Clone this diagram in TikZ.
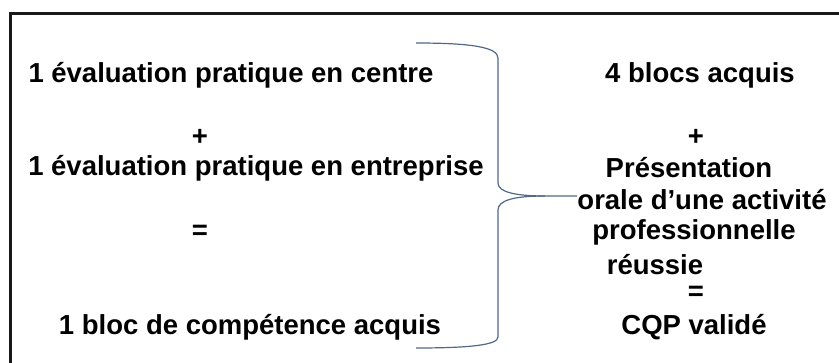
\documentclass[tikz,border=0pt]{standalone}
\usepackage{fontspec}
\setmainfont{Liberation Sans}
\begin{document}
\begin{tikzpicture}[x=1pt,y=-1pt,
  txt/.style={font=\fontsize{27.5}{32}\selectfont\bfseries, inner sep=0pt, anchor=center},
  frame/.style={draw=black!90, line width=3pt},
  bracecol/.style={draw={rgb,255:red,80;green,105;blue,135}, line width=1.2pt}]
\useasboundingbox (0,0) rectangle (839,363);
\draw[frame] (10,400) -- (10,14) -- (860,14);
% left column
\node[txt] (l1) at (231,75) {1 évaluation pratique en centre};
\node[txt] (lp) at (200,137) {+};
\node[txt] (l2) at (256,168) {1 évaluation pratique en entreprise};
\node[txt] (le) at (200,232) {=};
\node[txt] (l3) at (250,327) {1 bloc de compétence acquis};
% right column
\node[txt] (r1) at (700,75) {4 blocs acquis};
\node[txt] (rp) at (696,137) {+};
\node[txt] (r2) at (689,168) {Présentation};
\node[txt] (r3) at (702,200) {orale d’une activité};
\node[txt] (r4) at (694,232) {professionnelle};
\node[txt] (r5) at (655,265) {réussie};
\node[txt] (re) at (696,293) {=};
\node[txt] (r6) at (694,327) {CQP validé};
% brace
\draw[bracecol] (416,43) .. controls (470,43) and (498,47) .. (498,58)
  -- (498,183) .. controls (498,192) and (515,196) .. (545,196) -- (577,196);
\draw[bracecol] (545,196) .. controls (515,196) and (498,200) .. (498,210)
  -- (498,337) .. controls (498,345) and (470,348) .. (416,348);
\end{tikzpicture}
\end{document}
